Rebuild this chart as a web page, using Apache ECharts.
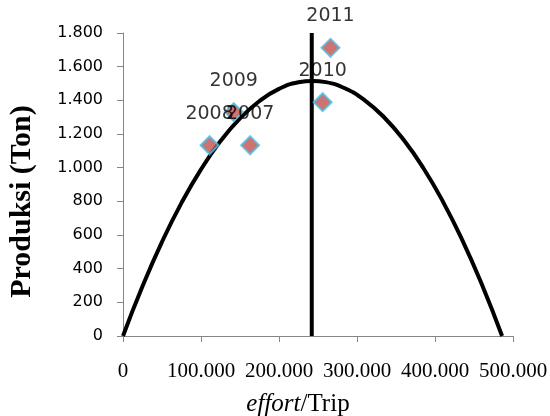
<!DOCTYPE html>
<html>
<head>
<meta charset="utf-8">
<script src="https://cdn.jsdelivr.net/npm/echarts@6/dist/echarts.min.js"></script>
<style>html,body{margin:0;padding:0;background:#fff}#c{width:550px;height:416px}</style>
</head>
<body>
<div id="c"></div>
<script>
// Observed data points (effort/Trip, Produksi Ton)
var years = ['2007', '2008', '2009', '2010', '2011'];
var effortObs = [163000, 111000, 142000, 256000, 266000];
var prodObs = [1133, 1133, 1330, 1389, 1712];

// Fitted curve points
var curveEffort = [0, 25000, 50000, 75000, 100000, 125000, 150000, 175000, 200000, 225000, 243000, 260000, 285000, 310000, 335000, 360000, 385000, 410000, 435000, 460000, 486000];
var curveProd = [0, 295, 559, 791, 990, 1158, 1293, 1396, 1468, 1507, 1515, 1508, 1470, 1400, 1298, 1164, 998, 800, 570, 307, 0];

// Vertical line at optimum effort
var optEffort = 242000;
var optLine = [0, 1800];

function fmt(v) {
  if (v === 0) return '0';
  var s = String(Math.round(v));
  return s.replace(/\B(?=(\d{3})+(?!\d))/g, '.');
}

var chart = echarts.init(document.getElementById('c'), null, {renderer: 'canvas'});
chart.setOption({
  animation: false,
  grid: {left: 123, right: 37, top: 33, bottom: 80, containLabel: false, outerBoundsMode: 'none'},
  xAxis: {
    type: 'value', min: 0, max: 500000, interval: 100000,
    axisLine: {lineStyle: {color: '#868686', width: 1}},
    axisTick: {show: true, length: 6, lineStyle: {color: '#868686'}},
    splitLine: {show: false},
    axisLabel: {formatter: fmt, margin: 25, color: '#000', fontFamily: 'Liberation Serif', fontSize: 21},
    name: '{i|effort}/Trip',
    nameLocation: 'middle', nameGap: 56,
    nameTextStyle: {
      color: '#000', fontFamily: 'Liberation Serif', fontSize: 25, padding: [0, 40, 0, 0],
      rich: {i: {fontStyle: 'italic', fontFamily: 'Liberation Serif', fontSize: 25, color: '#000'}}
    }
  },
  yAxis: {
    type: 'value', min: 0, max: 1800, interval: 200,
    axisLine: {show: true, lineStyle: {color: '#868686', width: 1}},
    axisTick: {show: true, length: 6, lineStyle: {color: '#868686'}},
    splitLine: {show: false},
    axisLabel: {formatter: fmt, margin: 20, color: '#000', fontFamily: 'DejaVu Sans', fontSize: 16},
    name: 'Produksi (Ton)',
    nameLocation: 'middle', nameGap: 86, nameRotate: 90,
    nameTextStyle: {color: '#000', fontFamily: 'Liberation Serif', fontWeight: 'bold', fontSize: 30, padding: [0, 0, 0, -34]}
  },
  series: [
    {
      type: 'line', data: curveEffort.map(function (x, i) { return [x, curveProd[i]]; }),
      smooth: true, showSymbol: false, symbol: 'none',
      lineStyle: {color: '#000', width: 4}, z: 2
    },
    {
      type: 'line', data: optLine.map(function (y) { return [optEffort, y]; }),
      showSymbol: false, symbol: 'none',
      lineStyle: {color: '#000', width: 4}, z: 2
    },
    {
      type: 'scatter', data: effortObs.map(function (x, i) { return [x, prodObs[i], years[i]]; }),
      symbol: 'diamond', symbolSize: 18,
      itemStyle: {color: '#C0504D', borderColor: '#4BBFE6', borderWidth: 2},
      label: {
        show: true, position: 'top', distance: 12,
        formatter: function (p) { return p.data[2]; },
        color: '#000', fontFamily: 'DejaVu Sans', fontSize: 19
      },
      z: 3
    }
  ]
});
</script>
</body>
</html>
